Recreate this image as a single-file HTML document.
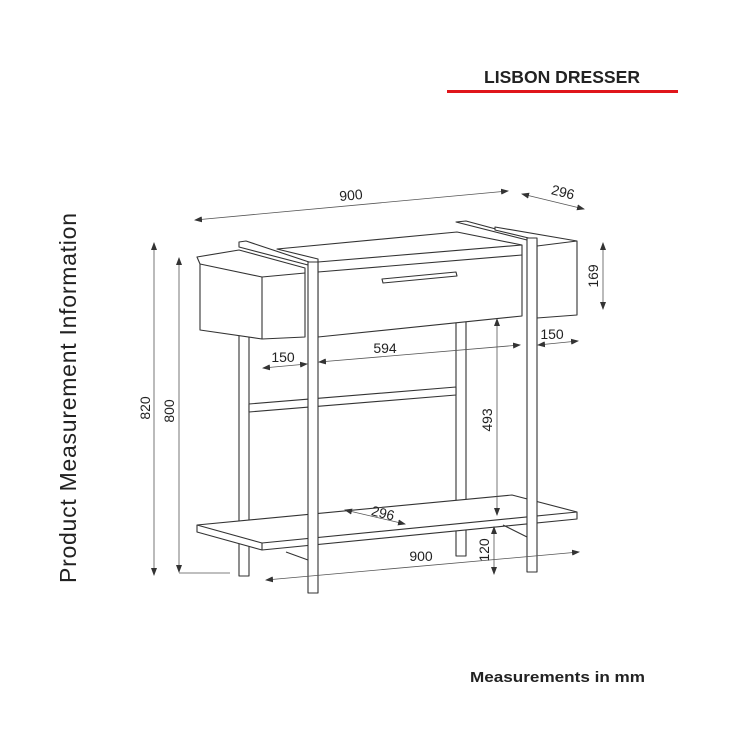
<!DOCTYPE html>
<html><head><meta charset="utf-8"><style>
html,body{margin:0;padding:0;background:#fff;}
svg{display:block;}
text{font-family:"Liberation Sans",Arial,sans-serif;}
</style></head><body>
<svg width="750" height="750" viewBox="0 0 750 750" xmlns="http://www.w3.org/2000/svg">
<defs>
<marker id="a" markerWidth="8" markerHeight="6" refX="7" refY="3" orient="auto-start-reverse" markerUnits="userSpaceOnUse"><path d="M0,0 L8,3 L0,6 z" fill="#333"/></marker>
</defs>
<rect width="750" height="750" fill="#fff"/>
<text x="484" y="83" font-size="17.5" font-weight="bold" fill="#222" font-family="'DejaVu Sans',sans-serif" textLength="156" lengthAdjust="spacingAndGlyphs">LISBON DRESSER</text>
<line x1="447" y1="91.5" x2="678" y2="91.5" stroke="#e0151b" stroke-width="3"/>
<text x="470" y="682" font-size="15" font-weight="bold" fill="#222" font-family="'DejaVu Sans',sans-serif" textLength="175" lengthAdjust="spacingAndGlyphs">Measurements in mm</text>
<text transform="translate(76,398) rotate(-90)" text-anchor="middle" font-size="23" fill="#222" textLength="370">Product Measurement Information</text>

<g fill="#fff" stroke="#333" stroke-width="1.1" stroke-linejoin="round">
<rect x="239" y="335" width="10" height="241"/>
<rect x="456" y="318" width="10" height="238"/>
<polygon points="249,404 456,387 456,395 249,412"/>
<polygon points="197,525 512,495 577,512 577,519 262,550 197,532"/>
<polyline points="197,525 262,543 577,512" fill="none"/>
<line x1="262" y1="543" x2="262" y2="550"/>
<polyline points="286,552 308,560" fill="none"/>
<polyline points="503,525 527,537" fill="none"/>
<polygon points="456,222 527,240 537,240 466,221"/>
<polygon points="495,227 577,241 577,315 537,318 537,240 495,230"/>
<line x1="537" y1="246" x2="577" y2="241"/>
<polygon points="277,249 457,232 522,245 522,316 318,337 318,259"/>
<polyline points="318,262 522,245" fill="none"/>
<line x1="318" y1="272" x2="522" y2="255"/>
<polygon points="382,279 456,272 457,276 383,283"/>
<polygon points="197,257 239,250 305,268 305,337 262,339 200,330 200,264"/>
<polyline points="200,264 262,277 305,273" fill="none"/>
<line x1="262" y1="277" x2="262" y2="339"/>
<polygon points="239,242 239,247 308,265 318,265 246,241"/>
<rect x="308" y="262" width="10" height="331"/>
<rect x="527" y="238" width="10" height="334"/>
</g>

<g stroke="#555" stroke-width="0.8" fill="none">
<line x1="195" y1="220" x2="508" y2="191" marker-start="url(#a)" marker-end="url(#a)"/>
<line x1="522" y1="194" x2="584" y2="209" marker-start="url(#a)" marker-end="url(#a)"/>
<line x1="154" y1="243" x2="154" y2="575" marker-start="url(#a)" marker-end="url(#a)"/>
<line x1="179" y1="258" x2="179" y2="572" marker-start="url(#a)" marker-end="url(#a)"/>
<line x1="179" y1="573" x2="230" y2="573"/>
<line x1="603" y1="243" x2="603" y2="309" marker-start="url(#a)" marker-end="url(#a)"/>
<line x1="538" y1="345" x2="578" y2="341" marker-start="url(#a)" marker-end="url(#a)"/>
<line x1="319" y1="362" x2="520" y2="345" marker-start="url(#a)" marker-end="url(#a)"/>
<line x1="263" y1="368" x2="307" y2="364" marker-start="url(#a)" marker-end="url(#a)"/>
<line x1="497" y1="319" x2="497" y2="515" marker-start="url(#a)" marker-end="url(#a)"/>
<line x1="494" y1="527" x2="494" y2="574" marker-start="url(#a)" marker-end="url(#a)"/>
<line x1="266" y1="580" x2="579" y2="552" marker-start="url(#a)" marker-end="url(#a)"/>
<line x1="345" y1="510" x2="405" y2="524" marker-start="url(#a)" marker-end="url(#a)"/>
</g>
<g fill="#222" font-size="14">
<text x="351" y="200" text-anchor="middle" transform="rotate(-5 351 195)">900</text>
<text x="563" y="197" text-anchor="middle" transform="rotate(14 563 192)">296</text>
<text transform="translate(150,408) rotate(-90)" text-anchor="middle">820</text>
<text transform="translate(174,411) rotate(-90)" text-anchor="middle">800</text>
<text transform="translate(598,276) rotate(-90)" text-anchor="middle">169</text>
<text x="552" y="339" text-anchor="middle">150</text>
<text x="385" y="353" text-anchor="middle">594</text>
<text x="283" y="362" text-anchor="middle">150</text>
<text transform="translate(492,420) rotate(-90)" text-anchor="middle">493</text>
<text transform="translate(489,550) rotate(-90)" text-anchor="middle">120</text>
<text x="421" y="561" text-anchor="middle">900</text>
<text x="383" y="518" text-anchor="middle" transform="rotate(14 383 513)">296</text>
</g>
</svg>
</body></html>
